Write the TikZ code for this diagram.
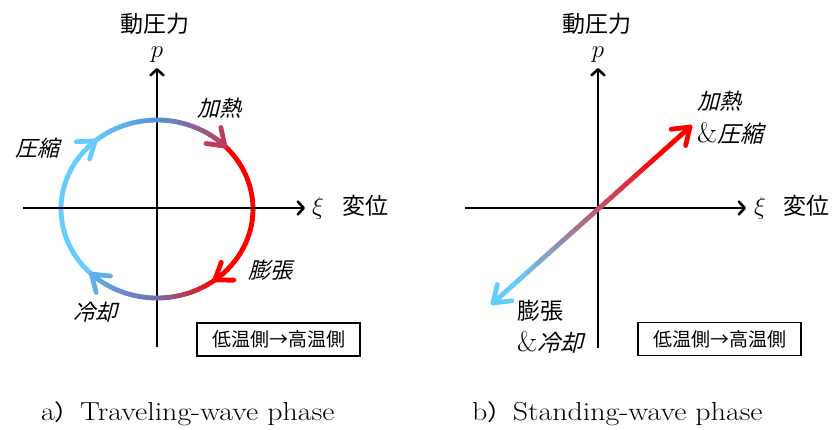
\documentclass[tikz,border=0pt]{standalone}
\usepackage{fontspec}
\usetikzlibrary{arrows.meta,calc}
\newfontfamily\jp{Noto Sans CJK JP}
\newfontfamily\jpit[FakeSlant=0.25]{Noto Sans CJK JP}
\definecolor{lb}{RGB}{102,204,255}
\definecolor{mb}{RGB}{85,145,210}
\definecolor{pr}{RGB}{190,60,90}
\definecolor{bb}{RGB}{110,115,175}
\definecolor{lbb}{RGB}{95,175,235}
\definecolor{rd}{RGB}{255,0,0}
\tikzset{
  axisline/.style={line width=2.6pt,-{Straight Barb[length=6pt,width=13pt,round]}},
  seg/.style={line width=4.8pt,line cap=round},
  chevstyle/.style={line width=4.8pt,line cap=round,line join=round},
  jlab/.style={font=\jp\fontsize{23}{25}\selectfont,inner sep=0pt},
  jitlab/.style={font=\jpit\fontsize{22}{24}\selectfont,inner sep=0pt},
  mathlab/.style={font=\fontsize{26}{28}\selectfont,inner sep=0pt},
  boxlab/.style={draw,line width=1.1pt,minimum width=163pt,minimum height=33pt,inner sep=0pt,font=\jp\fontsize{19}{21}\selectfont},
  caplab/.style={font=\fontsize{26}{28}\selectfont,inner sep=0pt,anchor=base west},
}
\newcommand{\myamp}{{\rmfamily\fontsize{28}{28}\selectfont\&}}
\newcommand{\mychev}[5]{%
  \pgfmathsetmacro{\myLAX}{#1+19*(-(#3)*cos(35)+(#4)*sin(35))}%
  \pgfmathsetmacro{\myLAY}{#2+19*(-(#3)*sin(35)-(#4)*cos(35))}%
  \pgfmathsetmacro{\myLBX}{#1+19*(-(#3)*cos(35)-(#4)*sin(35))}%
  \pgfmathsetmacro{\myLBY}{#2+19*((#3)*sin(35)-(#4)*cos(35))}%
  \draw[chevstyle,color=#5] (\myLAX,\myLAY) -- (#1,#2) -- (\myLBX,\myLBY);%
}
\newcommand{\myarcarrow}[2]{%
  \pgfmathsetmacro{\myTX}{157+96*cos(#1)}%
  \pgfmathsetmacro{\myTY}{209-89*sin(#1)}%
  \pgfmathsetmacro{\myDX}{96*sin(#1)}%
  \pgfmathsetmacro{\myDY}{89*cos(#1)}%
  \pgfmathsetmacro{\myNN}{sqrt(\myDX*\myDX+\myDY*\myDY)}%
  \pgfmathsetmacro{\myUX}{\myDX/\myNN}%
  \pgfmathsetmacro{\myUY}{\myDY/\myNN}%
  \mychev{\myTX}{\myTY}{\myUX}{\myUY}{#2}%
}
\newcommand{\mygradarc}[5]{%
  \foreach \i in {0,...,29}{%
    \pgfmathsetmacro{\myAA}{#1+(#2-#1)*\i/30}%
    \pgfmathsetmacro{\myAB}{#1+(#2-#1)*(\i+1)/30}%
    \ifnum\i<15
      \pgfmathtruncatemacro{\myPP}{100*(\i+0.5)/15}%
      \draw[seg,color=#4!\myPP!#3] ({157+96*cos(\myAA)},{209-89*sin(\myAA)}) -- ({157+96*cos(\myAB)},{209-89*sin(\myAB)});%
    \else
      \pgfmathtruncatemacro{\myPP}{100*(\i-14.5)/15}%
      \draw[seg,color=#5!\myPP!#4] ({157+96*cos(\myAA)},{209-89*sin(\myAA)}) -- ({157+96*cos(\myAB)},{209-89*sin(\myAB)});%
    \fi
  }%
}
\begin{document}
\begin{tikzpicture}[x=1pt,y=-1pt]
\useasboundingbox (0,0) rectangle (837,429);
% ---------- left panel ----------
\coordinate (LXl) at (23,208);
\coordinate (LXr) at (305,208);
\coordinate (LYb) at (157,347);
\coordinate (LYt) at (157,68);
\mygradarc{-133}{-230}{lb}{lb}{lb}
\mygradarc{45}{-53}{rd}{rd}{rd}
\draw[axisline] (LXl) -- (LXr);
\draw[axisline] (LYb) -- (LYt);
\mygradarc{130}{45}{lb}{mb}{pr}
\mygradarc{-53}{-133}{rd}{bb}{lbb}
\myarcarrow{45}{pr}
\myarcarrow{-53}{rd}
\myarcarrow{-133}{lbb}
\myarcarrow{130}{lb}
\node[jlab] (Ldp) at (155,24) {動圧力};
\node[mathlab,anchor=base] (Lp) at (157,57) {$p$};
\node[mathlab] (Lxi) at (318,208) {$\xi$};
\node[jlab] (Lhen) at (365,206) {変位};
\node[jitlab] (Lka) at (219,108) {加熱};
\node[jitlab] (Lat) at (37,148) {圧縮};
\node[jitlab] (Lbo) at (270,270) {膨張};
\node[jitlab] (Lre) at (95,312) {冷却};
\node[boxlab] (Lbox) at (278.5,339.5) {低温側→高温側};
\node[caplab] (Lcap) at (41,420) {\scalebox{1.15}[1]{a{\jp\fontsize{22}{24}\selectfont ）}Traveling-wave phase}};
% ---------- right panel ----------
\coordinate (RXl) at (465,208);
\coordinate (RXr) at (746,208);
\coordinate (RYb) at (598,348);
\coordinate (RYt) at (598,68);
\draw[axisline] (RXl) -- (RXr);
\draw[axisline] (RYb) -- (RYt);
\coordinate (DA) at (493,303);
\coordinate (DB) at (690,127);
\foreach \i in {0,...,39}{%
  \pgfmathsetmacro{\myTA}{\i/40}%
  \pgfmathsetmacro{\myTB}{(\i+1)/40}%
  \pgfmathtruncatemacro{\myPP}{max(0,min(100,100*((\i+0.5)/40-0.12)/0.73))}%
  \draw[seg,color=rd!\myPP!lb] ($(DA)!\myTA!(DB)$) -- ($(DA)!\myTB!(DB)$);%
}
\mychev{690}{127}{0.746}{-0.667}{rd}
\mychev{493}{303}{-0.746}{0.667}{lb}
\node[jlab] (Rdp) at (597,24) {動圧力};
\node[mathlab,anchor=base] (Rp) at (598,57) {$p$};
\node[mathlab] (Rxi) at (760,208) {$\xi$};
\node[jlab] (Rhen) at (806,206) {変位};
\node[jitlab,anchor=west] (Rka) at (697,101) {加熱};
\node[jlab,anchor=west] (Rat) at (697,133) {\myamp{\jpit 圧縮}};
\node[jlab,anchor=west] (Rbo) at (517,311) {膨張};
\node[jlab,anchor=west] (Rre) at (517,342) {\myamp{\jpit 冷却}};
\node[boxlab] (Rbox) at (719.5,339) {低温側→高温側};
\node[caplab] (Rcap) at (472,420) {\scalebox{1.15}[1]{b{\jp\fontsize{22}{24}\selectfont ）}Standing-wave phase}};
\end{tikzpicture}
\end{document}
